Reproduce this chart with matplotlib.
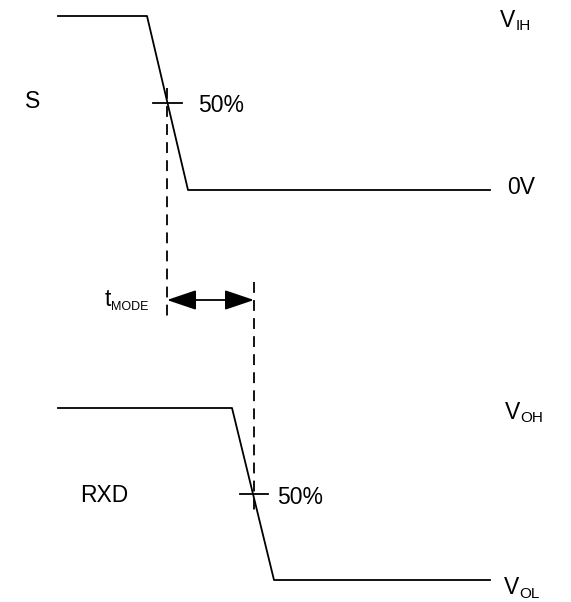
import matplotlib
matplotlib.use("Agg")
import matplotlib.pyplot as plt

plt.rcParams['font.family'] = ['Liberation Sans', 'DejaVu Sans']

# Waveform S (x positions in pixels, levels in pixels from top)
s_x = [58, 147, 188, 490]
s_y = [16, 16, 190, 190]
# Waveform RXD
r_x = [58, 232, 274, 490]
r_y = [408, 408, 580, 580]
# 50% points
s_mid = (168, 103)
r_mid = (254, 494)

fig = plt.figure(figsize=(5.71, 6.02), dpi=100)
ax = fig.add_axes([0, 0, 1, 1])
ax.set_xlim(0, 571)
ax.set_ylim(602, 0)
ax.axis('off')

lw = 1.3
ax.plot(s_x, s_y, color='black', lw=lw)
ax.plot(r_x, r_y, color='black', lw=lw)

# crosshair ticks
ax.plot([153, 182], [s_mid[1]] * 2, color='black', lw=lw)
ax.plot([240, 268], [r_mid[1]] * 2, color='black', lw=lw)

# dashed verticals
ax.plot([167, 167], [88, 316], color='black', lw=lw, ls=(0, (6, 4)))
ax.plot([254, 254], [282, 516], color='black', lw=lw, ls=(0, (6, 4)))

# double arrow
ax.annotate('', xy=(167, 300), xytext=(254, 300),
            arrowprops=dict(arrowstyle='<|-|>,head_length=0.65,head_width=0.22',
                            color='black', lw=1.3,
                            mutation_scale=28, shrinkA=0, shrinkB=0))

fs = 16.5
ax.text(198, 106, '50%', fontsize=fs, va='center', ha='left')
ax.text(277, 498, '50%', fontsize=fs, va='center', ha='left')
ax.text(25, 101, 'S', fontsize=fs, va='center', ha='left')
ax.text(80, 495, 'RXD', fontsize=fs, va='center', ha='left')
ax.text(507, 188, '0V', fontsize=fs, va='center', ha='left')

# Labels with subscripts: (main, sub, x, baseline_y, sub_size)
sub_labels = [
    ('V', 'IH', 500, 27, 11),
    ('V', 'OH', 505, 419, 11),
    ('V', 'OL', 504, 594, 11),
    ('t', 'MODE', 105, 306, 9),
]
fig.canvas.draw()
renderer = fig.canvas.get_renderer()
inv = ax.transData.inverted()
for main, sub, x, yb, ss in sub_labels:
    t = ax.text(x, yb, main, fontsize=fs, va='baseline', ha='left')
    bb = t.get_window_extent(renderer)
    x1, _ = inv.transform((bb.x1, bb.y0))
    ax.text(x1, yb + 3.5, sub, fontsize=ss, va='baseline', ha='left')

fig.savefig('out.png', dpi=100, facecolor='white')
